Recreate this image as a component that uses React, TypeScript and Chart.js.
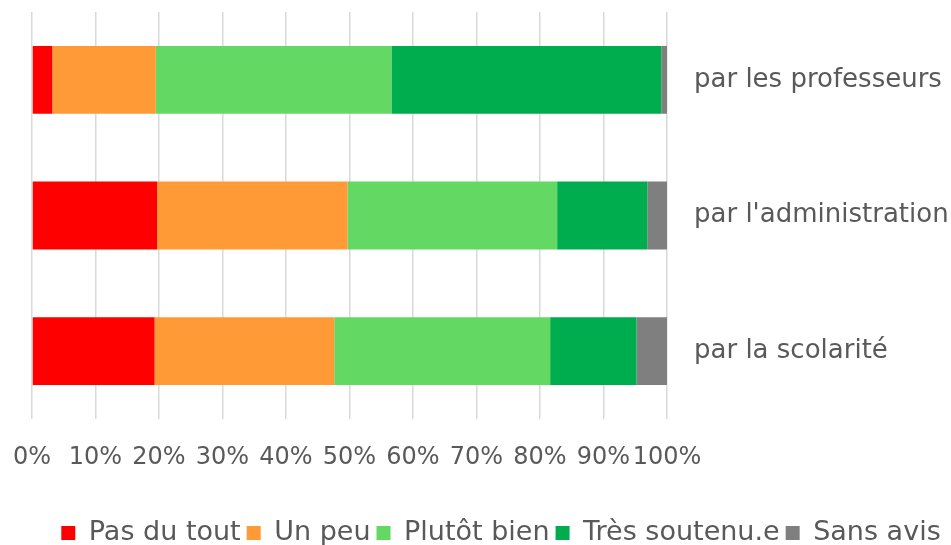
import React, { useEffect, useRef } from "react";
import { Chart, registerables } from "chart.js";

Chart.register(...registerables);

const categories = ["par les professeurs", "par l'administration", "par la scolarité"];
const seriesNames = ["Pas du tout", "Un peu", "Plutôt bien", "Très soutenu.e", "Sans avis"];
const pasDuTout = [3.2, 19.7, 19.3];
const unPeu = [16.3, 30.0, 28.3];
const plutotBien = [37.1, 33.0, 34.0];
const tresSoutenu = [42.5, 14.2, 13.6];
const sansAvis = [0.9, 3.1, 4.8];
const seriesColors = ["#FF0000", "#FF9A36", "#63D863", "#00AD4E", "#7F7F7F"];

const FONT = "'DejaVu Sans', sans-serif";
const TEXT = "#595959";

export default function App() {
  const ref = useRef<HTMLCanvasElement | null>(null);
  useEffect(() => {
    if (!ref.current) return;
    const values = [pasDuTout, unPeu, plutotBien, tresSoutenu, sansAvis];
    const chart = new Chart(ref.current, {
      type: "bar",
      data: {
        labels: categories,
        datasets: seriesNames.map((n, i) => ({
          label: n,
          data: values[i],
          backgroundColor: seriesColors[i],
          borderWidth: 0,
          categoryPercentage: 1,
          barPercentage: 0.5,
        })),
      },
      options: {
        indexAxis: "y",
        animation: false,
        responsive: true,
        maintainAspectRatio: false,
        layout: { padding: { top: 12, left: 32, right: -19, bottom: -11.5 } },
        scales: {
          x: {
            stacked: true,
            min: 0,
            max: 100,
            grid: { color: "#D9D9D9", lineWidth: 1.5, drawTicks: false },
            border: { display: false },
            ticks: {
              stepSize: 10,
              autoSkip: false,
              maxRotation: 0,
              padding: 24,
              color: TEXT,
              font: { family: FONT, size: 24 },
              callback: (v: any) => v + "%",
            },
            afterFit: (s: any) => {
              s.paddingLeft = 0;
              s.paddingRight = 0;
              s.height = 53;
            },
          },
          y: {
            stacked: true,
            position: "right",
            grid: { display: false, drawTicks: true, tickLength: 27 },
            border: { display: false },
            ticks: {
              padding: 0,
              color: TEXT,
              font: { family: FONT, size: 26 },
            },
            afterFit: (s: any) => {
              s.width = 303;
              s.paddingTop = 0;
              s.paddingBottom = 0;
            },
          },
        },
        plugins: {
          legend: {
            position: "bottom",
            title: {
              display: true,
              text: "",
              font: { size: 1 },
              padding: { top: 40.3, bottom: 0 },
            },
            labels: {
              boxWidth: 14,
              boxHeight: 14,
              padding: 6,
              color: TEXT,
              font: { family: FONT, size: 27 },
            },
          },
          tooltip: { enabled: false },
        },
      },
    });
    return () => chart.destroy();
  }, []);
  return (
    <div style={{ position: "fixed", left: 0, top: 0, width: 951, height: 545, background: "#fff" }}>
      <canvas ref={ref} />
    </div>
  );
}
